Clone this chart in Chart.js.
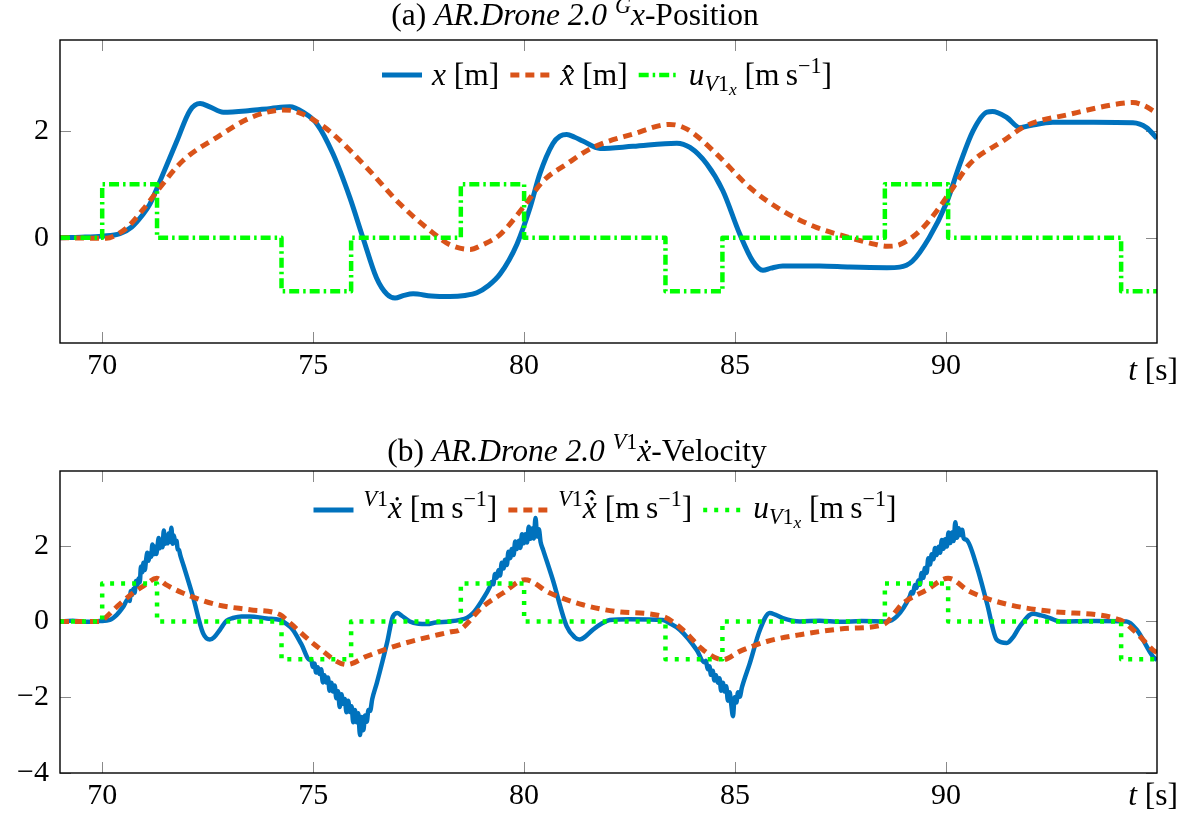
<!DOCTYPE html>
<html><head><meta charset="utf-8">
<script src="https://cdn.jsdelivr.net/npm/chart.js@4/dist/chart.umd.min.js"></script>
<style>
html,body{margin:0;padding:0;background:#fff;}
#wrap{position:relative;width:1191px;height:818px;overflow:hidden;}
#c1{position:absolute;left:0;top:0;}
#c2{position:absolute;left:0;top:430px;}
</style></head><body>
<div id="wrap"><canvas id="c1" width="1191" height="430"></canvas><canvas id="c2" width="1191" height="388"></canvas></div>
<script>
// ---------- data ----------
const xTicks = [70, 75, 80, 85, 90];
const posYTicks = [0, 2];
const velYTicks = [-4, -2, 0, 2];

// (a) position x [m]
const posT = [69.0,69.5,70.0,70.42,70.7,70.95,71.13,71.44,71.77,72.08,72.32,72.55,72.87,73.5,74.0,74.45,74.76,75.09,75.47,75.87,76.18,76.5,76.75,76.94,77.15,77.37,77.8,78.24,78.6,78.88,79.15,79.43,79.83,80.14,80.37,80.68,80.85,81.01,81.2,81.39,81.8,82.58,83.62,83.93,84.33,84.71,85.11,85.42,85.66,85.85,86.13,87.0,87.72,88.6,88.9,89.2,89.6,90.0,90.33,90.64,90.97,91.1,91.44,91.75,92.0,92.53,93.5,94.43,94.75,95.0];
const posX = [0.0,0.01,0.03,0.075,0.2,0.42,0.63,1.19,1.81,2.38,2.51,2.45,2.35,2.38,2.42,2.45,2.35,2.13,1.57,0.75,0.0,-0.75,-1.06,-1.13,-1.08,-1.05,-1.09,-1.10,-1.08,-1.03,-0.9,-0.68,-0.12,0.56,1.19,1.76,1.9,1.93,1.88,1.81,1.67,1.71,1.77,1.69,1.38,0.88,0.07,-0.44,-0.61,-0.57,-0.53,-0.53,-0.55,-0.56,-0.55,-0.44,0.0,0.63,1.38,2.0,2.35,2.36,2.25,2.06,2.1,2.16,2.16,2.15,2.06,1.86];
// (a) estimate x-hat [m]
const posHatT = [69.0,70.1,70.35,70.59,70.97,71.37,71.91,72.72,73.5,74.28,74.5,74.76,75.1,75.47,76.27,77.06,77.84,78.24,78.72,79.02,79.43,79.97,80.45,81.01,81.63,82.58,83.45,83.65,83.93,84.57,85.35,86.13,86.94,87.72,88.3,88.6,88.9,89.38,89.78,90.17,90.56,91.35,91.91,92.93,94.12,94.43,94.7,95.0];
const posHat = [0.0,-0.01,0.06,0.19,0.53,0.94,1.44,1.88,2.24,2.39,2.38,2.31,2.16,1.94,1.31,0.63,0.09,-0.13,-0.22,-0.13,0.06,0.56,1.06,1.38,1.69,1.94,2.12,2.1,2.0,1.56,0.94,0.5,0.19,0.0,-0.12,-0.16,-0.13,0.13,0.5,0.94,1.38,1.81,2.1,2.31,2.51,2.53,2.47,2.33];
// control input u (both panels)
const uT = [69,70.0,71.3,74.25,75.9,78.5,80.0,83.35,84.7,88.55,90.05,94.15,95];
const uV = [0,1,0,-1,0,1,0,-1,0,1,0,-1,-1];

// (b) velocity x-dot [m/s] (noisy measurement)
const velT = [69.0,69.3,69.6,69.95,70.18,70.35,70.5,
 70.62,70.65,70.68,70.71,70.74,70.77,70.80,70.83,70.86,70.89,70.92,70.95,70.98,71.01,71.04,71.07,71.10,71.13,71.16,71.19,71.22,71.25,71.28,71.31,71.34,71.37,71.40,71.43,71.46,71.49,71.52,71.55,71.58,71.61,71.64,71.67,71.70,71.73,71.76,71.79,71.82,71.85,71.91,
 72.15,72.39,72.55,72.65,72.79,72.95,73.1,73.3,73.5,73.9,74.21,74.35,74.52,74.72,74.92,
 74.95,74.99,75.03,75.07,75.11,75.15,75.19,75.23,75.27,75.31,75.35,75.39,75.43,75.47,75.51,75.55,75.59,75.63,75.67,75.71,75.75,75.79,75.83,75.87,75.91,75.95,75.99,76.03,76.07,76.11,76.15,76.19,76.23,76.27,76.31,76.35,76.40,76.51,
 76.75,76.89,77.0,77.1,77.29,77.5,77.7,77.9,78.24,78.48,78.65,78.79,79.0,79.19,
 79.23,79.27,79.31,79.35,79.39,79.43,79.47,79.51,79.55,79.59,79.63,79.67,79.71,79.75,79.79,79.83,79.87,79.91,79.95,79.99,80.03,80.07,80.11,80.15,80.19,80.23,80.27,80.31,80.35,80.39,80.45,
 80.68,81.01,81.2,81.32,81.45,81.63,81.85,82.03,82.5,83.29,83.45,83.69,84.09,
 84.27,84.31,84.35,84.39,84.43,84.47,84.51,84.55,84.59,84.63,84.67,84.71,84.75,84.79,84.83,84.87,84.91,84.95,84.99,85.03,85.07,85.11,85.16,
 85.35,85.59,85.82,85.95,86.13,86.54,87.0,87.5,88.0,88.6,88.83,89.14,
 89.18,89.22,89.26,89.30,89.34,89.38,89.42,89.46,89.50,89.54,89.58,89.62,89.66,89.70,89.74,89.78,89.82,89.86,89.90,89.94,89.98,90.02,90.06,90.10,90.14,90.18,90.22,90.26,90.30,90.34,90.38,90.42,90.49,
 90.73,90.97,91.2,91.44,91.6,91.75,92.06,92.25,92.46,92.7,93.5,94.28,94.52,94.9,95.0];
const velX = [0.0,0.02,-0.01,0.01,0.04,0.18,0.39,
 0.60,0.54,0.80,0.70,0.86,0.76,1.07,0.93,1.13,1.03,1.45,1.30,1.55,1.36,1.62,1.81,1.60,1.80,1.71,2.03,1.77,1.97,1.78,1.98,2.20,1.93,2.14,1.96,2.40,2.05,2.27,2.06,2.33,2.10,2.47,2.05,2.27,2.08,2.13,1.90,1.89,1.75,1.54,
 0.66,-0.31,-0.48,-0.42,-0.22,0.02,0.09,0.13,0.13,0.08,0.04,-0.05,-0.22,-0.6,-1.01,
 -0.99,-1.20,-1.11,-1.35,-1.21,-1.39,-1.26,-1.61,-1.42,-1.61,-1.48,-1.83,-1.62,-1.85,-1.69,-2.03,-1.84,-2.26,-1.92,-2.17,-2.05,-2.40,-2.09,-2.39,-2.24,-2.66,-2.34,-2.66,-2.42,-3.00,-2.52,-2.87,-2.48,-2.65,-2.34,-2.36,-2.05,-1.62,
 -0.57,0.13,0.22,0.15,0.0,-0.06,-0.07,-0.03,0.0,0.04,0.1,0.22,0.55,0.92,
 1.04,0.98,1.25,1.15,1.35,1.21,1.55,1.40,1.63,1.49,1.84,1.67,1.91,1.75,2.11,1.91,2.13,1.94,2.30,2.06,2.30,2.08,2.50,2.18,2.45,2.19,2.73,2.24,2.43,2.10,1.89,
 1.1,-0.13,-0.42,-0.48,-0.4,-0.22,-0.05,0.04,0.06,0.04,-0.05,-0.22,-0.75,
 -1.08,-1.04,-1.26,-1.18,-1.41,-1.30,-1.56,-1.42,-1.62,-1.50,-1.83,-1.62,-1.85,-1.71,-2.09,-1.87,-2.20,-2.50,-2.00,-2.14,-1.87,-1.99,-1.75,
 -1.1,-0.22,0.22,0.18,0.09,0.0,0.02,-0.01,0.01,0.0,0.13,0.66,
 0.78,0.74,0.96,0.88,1.08,0.97,1.28,1.15,1.41,1.28,1.67,1.50,1.77,1.64,1.94,1.75,1.97,1.81,2.15,1.92,2.17,1.98,2.35,2.07,2.35,2.12,2.62,2.21,2.46,2.28,2.42,2.19,2.15,
 1.45,0.48,-0.48,-0.57,-0.4,-0.13,0.2,0.16,0.09,0.0,0.01,0.0,-0.22,-0.92,-1.02];
// (b) estimate x-dot-hat [m/s]
const velHatT = [69.0,69.95,70.1,70.35,70.73,71.0,71.29,71.5,71.91,72.72,73.5,74.21,74.45,75.09,75.8,76.27,77.06,78.24,78.48,79.02,79.5,80.02,80.61,81.39,82.2,83.29,83.76,84.24,84.71,85.11,85.75,86.54,87.72,88.5,88.98,89.54,90.05,90.56,91.35,92.53,94.12,94.52,94.9,95.0];
const velHat = [0.0,0.0,0.12,0.39,0.75,0.95,1.14,0.98,0.75,0.44,0.31,0.18,-0.04,-0.66,-1.14,-0.92,-0.61,-0.28,-0.22,0.39,0.75,1.1,0.75,0.44,0.26,0.13,-0.22,-0.75,-1.01,-0.79,-0.53,-0.35,-0.18,-0.09,0.48,0.83,1.14,0.79,0.48,0.26,0.04,-0.31,-0.75,-0.82];

// ---------- helpers ----------
const FONT = '"Liberation Serif", "DejaVu Serif", serif';
const TF = 30;     // tick label size
const F = 31.5;    // title / legend size
const BLUE = '#0072BD', ORANGE = '#D95319', GREEN = '#00FF00';
const pts = (t, v) => t.map((x, i) => ({x: x, y: v[i]}));

function setFont(ctx, s, sz){ ctx.font = (s.it ? 'italic ' : '') + sz + 'px ' + FONT; }
function richWidth(ctx, segs){
  let w = 0;
  segs.forEach(s => { if (s.ov) return; const sz = F*(s.s||1); setFont(ctx, s, sz); w += ctx.measureText(s.t).width + (s.k||0)*F; });
  return w;
}
function rich(ctx, segs, x, y, align){
  const w = richWidth(ctx, segs);
  let cx = align === 'center' ? x - w/2 : (align === 'right' ? x - w : x);
  let prevX = cx, prevW = 0;
  ctx.fillStyle = '#000'; ctx.textBaseline = 'alphabetic'; ctx.textAlign = 'left';
  segs.forEach(s => {
    const sz = F*(s.s||1); setFont(ctx, s, sz);
    const ww = ctx.measureText(s.t).width;
    if (s.ov) { ctx.fillText(s.t, prevX + prevW/2 - ww/2 + (s.dx||0)*F, y + (s.dy||0)*F); return; }
    ctx.fillText(s.t, cx, y + (s.dy||0)*F);
    prevX = cx; prevW = ww;
    cx += ww + (s.k||0)*F;
  });
  return w;
}
const unitMS = [{t:' [m\u2009s'},{t:'\u22121',s:0.7,dy:-0.38},{t:']'}];
const uSeg = [{t:'u',it:1},{t:'V',it:1,s:0.7,dy:0.18},{t:'1',s:0.7,dy:0.18},{t:'x',it:1,s:0.55,dy:0.32}];
const supV1 = [{t:'V',it:1,s:0.7,dy:-0.38},{t:'1',s:0.7,dy:-0.38}];

function drawLegend(ctx, items, cx, lineY, baseY){
  const SL = 40, G1 = 10, G2 = 11;
  let total = 0;
  items.forEach((it, i) => { it.w = richWidth(ctx, it.segs); total += SL + G1 + it.w + (i ? G2 : 0); });
  let x = cx - total/2;
  items.forEach((it, i) => {
    if (i) x += G2;
    ctx.save();
    ctx.strokeStyle = it.color; ctx.lineWidth = it.lw; ctx.setLineDash(it.dash); ctx.lineCap = 'butt';
    ctx.beginPath(); ctx.moveTo(x, lineY); ctx.lineTo(x + SL, lineY); ctx.stroke();
    ctx.restore();
    x += SL + G1;
    rich(ctx, it.segs, x, baseY, 'left');
    x += it.w;
  });
}

function frameTicks(chart){
  const {ctx, chartArea: a, scales} = chart;
  ctx.save();
  ctx.strokeStyle = '#8a8a8a'; ctx.lineWidth = 1; ctx.setLineDash([]);
  ctx.beginPath();
  scales.x.ticks.forEach(t => { const p = Math.round(scales.x.getPixelForValue(t.value)) + 0.5;
    ctx.moveTo(p, a.bottom); ctx.lineTo(p, a.bottom - 11); ctx.moveTo(p, a.top); ctx.lineTo(p, a.top + 11); });
  scales.y.ticks.forEach(t => { const p = Math.round(scales.y.getPixelForValue(t.value)) + 0.5;
    ctx.moveTo(a.left, p); ctx.lineTo(a.left + 11, p); ctx.moveTo(a.right, p); ctx.lineTo(a.right - 11, p); });
  ctx.stroke();
  ctx.restore();
}
function frame(chart){
  const {ctx, chartArea: a} = chart;
  ctx.save(); ctx.strokeStyle = '#000'; ctx.lineWidth = 1.4; ctx.setLineDash([]);
  ctx.strokeRect(a.left, a.top, a.right - a.left, a.bottom - a.top);
  ctx.restore();
}

function makeOpts(ymin, ymax, yTicks, padTop, h){
  return {
    responsive:false, animation:false, devicePixelRatio:1,
    layout:{padding:{left:0, right:34, top:padTop, bottom:0}},
    plugins:{legend:{display:false}, title:{display:false}, tooltip:{enabled:false}},
    elements:{point:{radius:0}, line:{borderCapStyle:'butt', borderJoinStyle:'round'}},
    scales:{
      x:{type:'linear', min:69, max:95,
         grid:{display:false, drawTicks:false}, border:{display:false},
         afterBuildTicks:s => { s.ticks = xTicks.map(v => ({value:v})); },
         afterFit:s => { s.height = h - 343; },
         ticks:{font:{family:FONT, size:TF}, color:'#000', padding:5, maxRotation:0, autoSkip:false}},
      y:{type:'linear', min:ymin, max:ymax,
         grid:{display:false, drawTicks:false}, border:{display:false},
         afterBuildTicks:s => { s.ticks = yTicks.map(v => ({value:v})); },
         afterFit:s => { s.width = 60; },
         ticks:{font:{family:FONT, size:TF}, color:'#000', padding:11,
                callback:v => String(v).replace('-', '\u2212')}}
    }
  };
}

// ---------- chart (a) ----------
new Chart(document.getElementById('c1'), {
  type:'line',
  data:{datasets:[
    {data:pts(uT, uV), stepped:'before', borderColor:GREEN, borderWidth:4.5, borderDash:[10,4,2.5,4], order:0, clip:0},
    {data:pts(posHatT, posHat), cubicInterpolationMode:'monotone', borderColor:ORANGE, borderWidth:5, borderDash:[9,6], order:1, clip:0},
    {data:pts(posT, posX), cubicInterpolationMode:'monotone', borderColor:BLUE, borderWidth:5, order:2, clip:0}
  ]},
  options:makeOpts(-1.97, 3.7, posYTicks, 40, 430),
  plugins:[{id:'decoA',
    beforeDatasetsDraw:frameTicks,
    afterDatasetsDraw(chart){
      frame(chart);
      const ctx = chart.ctx;
      rich(ctx, [{t:'(a) '},{t:'AR.Drone 2.0',it:1},{t:' '},{t:'G',it:1,s:0.7,dy:-0.38},{t:'x',it:1},{t:'-Position'}], 575, 25, 'center');
      drawLegend(ctx, [
        {color:BLUE, lw:5, dash:[], segs:[{t:'x',it:1},{t:' [m]'}]},
        {color:ORANGE, lw:5, dash:[9,6], segs:[{t:'x',it:1},{t:'\u02C6',ov:1,dx:0.03,dy:0.05},{t:' [m]'}]},
        {color:GREEN, lw:4.5, dash:[10,4,2.5,4], segs:uSeg.concat(unitMS)}
      ], 607, 75, 85);
      rich(ctx, [{t:'t',it:1},{t:' [s]'}], 1178, 380, 'right');
    }}]
});

// ---------- chart (b) ----------
new Chart(document.getElementById('c2'), {
  type:'line',
  data:{datasets:[
    {data:pts(uT, uV), stepped:'before', borderColor:GREEN, borderWidth:4.5, borderDash:[4,7], order:0, clip:0},
    {data:pts(velHatT, velHat), cubicInterpolationMode:'monotone', borderColor:ORANGE, borderWidth:5, borderDash:[9,6], order:1, clip:0},
    {data:pts(velT, velX), cubicInterpolationMode:'monotone', borderColor:BLUE, borderWidth:4.5, order:2, clip:0}
  ]},
  options:makeOpts(-4, 3.97, velYTicks, 41, 388),
  plugins:[{id:'decoB',
    beforeDatasetsDraw:frameTicks,
    afterDatasetsDraw(chart){
      frame(chart);
      const ctx = chart.ctx;
      rich(ctx, [{t:'(b) '},{t:'AR.Drone 2.0',it:1},{t:' '}].concat(supV1, [{t:'\u1E8B',it:1},{t:'-Velocity'}]), 577, 31, 'center');
      drawLegend(ctx, [
        {color:BLUE, lw:5, dash:[], segs:supV1.concat([{t:'\u1E8B',it:1}], unitMS)},
        {color:ORANGE, lw:5, dash:[9,6], segs:supV1.concat([{t:'\u1E8B',it:1},{t:'\u02C6',ov:1,dx:0.03,dy:-0.2}], unitMS)},
        {color:GREEN, lw:4.5, dash:[4,7], segs:uSeg.concat(unitMS)}
      ], 605, 80, 88);
      rich(ctx, [{t:'t',it:1},{t:' [s]'}], 1178, 375, 'right');
    }}]
});
</script>
</body></html>
